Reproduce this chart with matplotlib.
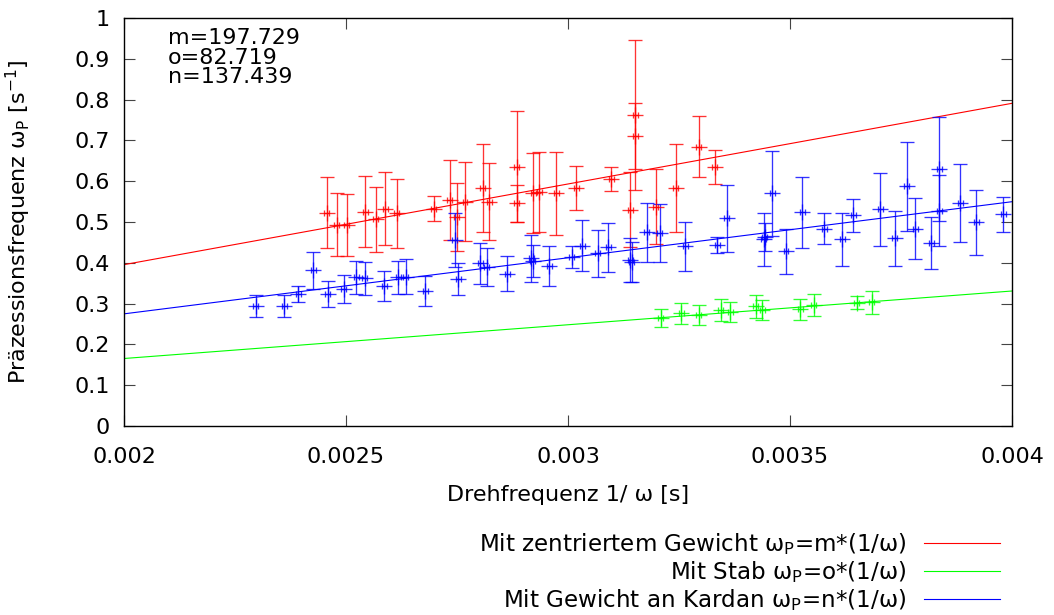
import matplotlib
matplotlib.use("Agg")
import matplotlib.pyplot as plt
import numpy as np

# Fit-Parameter (omega_P = k * (1/omega))
m_fit = 197.729
o_fit = 82.719
n_fit = 137.439

# Mit zentriertem Gewicht (rot)
red_x = [0.002457, 0.002479, 0.002502, 0.002543, 0.002567, 0.002588, 0.002614,
         0.002698, 0.002734, 0.002749, 0.002768, 0.002808, 0.002823, 0.002885,
         0.002885, 0.002922, 0.002935, 0.002974, 0.003019, 0.003097, 0.003140,
         0.003152, 0.003152, 0.003198, 0.003243, 0.003295, 0.003330]
red_y = [0.523, 0.493, 0.493, 0.525, 0.507, 0.533, 0.521,
         0.533, 0.554, 0.513, 0.550, 0.584, 0.550, 0.636,
         0.546, 0.570, 0.574, 0.570, 0.583, 0.606, 0.530,
         0.762, 0.711, 0.537, 0.584, 0.685, 0.634]
red_err = [0.087, 0.077, 0.076, 0.087, 0.080, 0.089, 0.085,
           0.030, 0.098, 0.083, 0.096, 0.108, 0.095, 0.135,
           0.045, 0.098, 0.098, 0.102, 0.054, 0.029, 0.092,
           0.184, 0.081, 0.092, 0.108, 0.074, 0.042]

# Mit Stab (gruen)
green_x = [0.003209, 0.003255, 0.003295, 0.003344, 0.003365, 0.003423,
           0.003438, 0.003523, 0.003553, 0.003650, 0.003684]
green_y = [0.265, 0.276, 0.272, 0.284, 0.280, 0.293,
           0.284, 0.286, 0.297, 0.302, 0.303]
green_err = [0.022, 0.025, 0.024, 0.027, 0.025, 0.028,
             0.025, 0.025, 0.027, 0.016, 0.028]

# Mit Gewicht an Kardan (blau)
blue_x = [0.002297, 0.002361, 0.002393, 0.002426, 0.002459, 0.002495, 0.002523,
          0.002542, 0.002586, 0.002618, 0.002635, 0.002679, 0.002745, 0.002753,
          0.002802, 0.002817, 0.002863, 0.002917, 0.002921, 0.002958, 0.003008,
          0.003032, 0.003067, 0.003091, 0.003140, 0.003144, 0.003177, 0.003207,
          0.003264, 0.003336, 0.003357, 0.003441, 0.003443, 0.003460, 0.003491,
          0.003528, 0.003577, 0.003618, 0.003642, 0.003703, 0.003736, 0.003763,
          0.003782, 0.003818, 0.003836, 0.003836, 0.003883, 0.003920, 0.003980]
blue_y = [0.295, 0.295, 0.323, 0.382, 0.323, 0.336, 0.364,
          0.362, 0.343, 0.364, 0.366, 0.331, 0.456, 0.360,
          0.399, 0.389, 0.373, 0.411, 0.404, 0.392, 0.414,
          0.442, 0.423, 0.438, 0.407, 0.402, 0.475, 0.474,
          0.441, 0.444, 0.509, 0.458, 0.463, 0.570, 0.428,
          0.524, 0.484, 0.458, 0.516, 0.531, 0.460, 0.588,
          0.484, 0.449, 0.630, 0.527, 0.547, 0.499, 0.519]
blue_err = [0.027, 0.027, 0.020, 0.045, 0.032, 0.035, 0.041,
            0.041, 0.036, 0.041, 0.043, 0.036, 0.066, 0.040,
            0.050, 0.047, 0.043, 0.057, 0.040, 0.048, 0.027,
            0.062, 0.057, 0.060, 0.055, 0.050, 0.072, 0.071,
            0.060, 0.020, 0.082, 0.065, 0.035, 0.104, 0.056,
            0.087, 0.037, 0.065, 0.041, 0.089, 0.067, 0.109,
            0.074, 0.063, 0.127, 0.087, 0.095, 0.079, 0.043]

x_err = 5.6e-6  # Unsicherheit in 1/omega

x_ticks = [0.002, 0.0025, 0.003, 0.0035, 0.004]
x_ticklabels = ["0.002", "0.0025", "0.003", "0.0035", "0.004"]
y_ticks = [0, 0.1, 0.2, 0.3, 0.4, 0.5, 0.6, 0.7, 0.8, 0.9, 1.0]
y_ticklabels = ["0", "0.1", "0.2", "0.3", "0.4", "0.5", "0.6", "0.7", "0.8", "0.9", "1"]

RED, GREEN, BLUE = "#ff0000", "#00ff00", "#0000ff"
FS = 16

plt.rcParams["font.family"] = ["DejaVu Sans"]
plt.rcParams["mathtext.fontset"] = "dejavusans"

fig = plt.figure(figsize=(10.54, 6.15), dpi=100)
ax = fig.add_axes([124 / 1054, 1 - 426 / 615, 888 / 1054, 408 / 615])


def draw_points(xs, ys, errs, color):
    # y-Fehler mit breiten Kappen, x-Fehler mit kleinen Kappen, Punkt als "+"
    ax.errorbar(xs, ys, yerr=errs, fmt="none", ecolor=color, elinewidth=0.95,
                capsize=5, capthick=0.95, alpha=0.8, zorder=3)
    ax.errorbar(xs, ys, xerr=x_err, fmt="+", color=color, ecolor=color,
                elinewidth=0.95, capsize=2.5, capthick=0.95, markersize=11.5,
                markeredgewidth=0.95, alpha=0.8, zorder=3)


draw_points(red_x, red_y, red_err, RED)
draw_points(green_x, green_y, green_err, GREEN)
draw_points(blue_x, blue_y, blue_err, BLUE)

xs_fit = np.array([0.002, 0.004])
l_red, = ax.plot(xs_fit, m_fit * xs_fit, color=RED, lw=0.8, zorder=2)
l_green, = ax.plot(xs_fit, o_fit * xs_fit, color=GREEN, lw=0.8, zorder=2)
l_blue, = ax.plot(xs_fit, n_fit * xs_fit, color=BLUE, lw=0.8, zorder=2)

ax.set_xlim(0.002, 0.004)
ax.set_ylim(0, 1)
ax.set_xticks(x_ticks)
ax.set_xticklabels(x_ticklabels)
ax.set_yticks(y_ticks)
ax.set_yticklabels(y_ticklabels)
ax.tick_params(direction="in", length=8, width=0.8, color="#444444",
               top=True, right=True, labelsize=FS)
ax.tick_params(axis="x", pad=15)
ax.tick_params(axis="y", pad=10)
for sp in ax.spines.values():
    sp.set_linewidth(1.0)

ax.set_xlabel("Drehfrequenz 1/ ω [s]", fontsize=FS)
ax.xaxis.set_label_coords(0.5, -0.145)
ax.set_ylabel(r"Präzessionsfrequenz ω$_\mathrm{P}$ [s$^\mathrm{-1}$]", fontsize=FS)
ax.yaxis.set_label_coords(-0.1025, 0.5)

ax.text(0.0495, 0.951, f"m={m_fit}", transform=ax.transAxes, fontsize=FS,
        va="center", ha="left")
ax.text(0.0495, 0.903, f"o={o_fit}", transform=ax.transAxes, fontsize=FS,
        va="center", ha="left")
ax.text(0.0495, 0.855, f"n={n_fit}", transform=ax.transAxes, fontsize=FS,
        va="center", ha="left")

fig.legend([l_red, l_green, l_blue],
           [r"Mit zentriertem Gewicht ω$_\mathrm{P}$=m*(1/ω)",
            r"Mit Stab ω$_\mathrm{P}$=o*(1/ω)",
            r"Mit Gewicht an Kardan ω$_\mathrm{P}$=n*(1/ω)"],
           loc="upper right", bbox_to_anchor=(1000 / 1054, 1 - 531 / 615),
           bbox_transform=fig.transFigure, frameon=False, fontsize=16.6,
           markerfirst=False, borderpad=0, borderaxespad=0,
           handlelength=3.3, handletextpad=0.75, labelspacing=0.1)

fig.savefig("out.png", dpi=100)
